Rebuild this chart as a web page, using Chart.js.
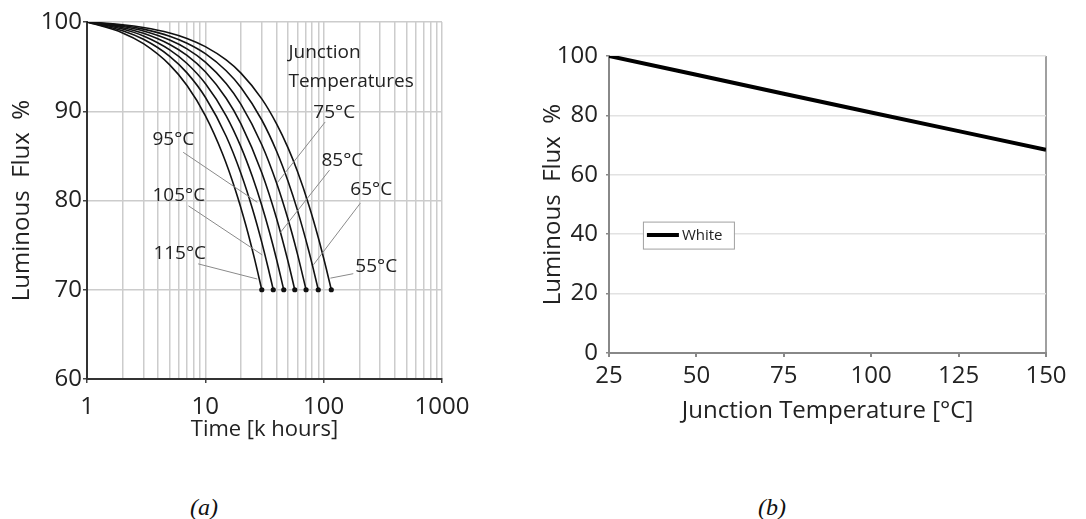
<!DOCTYPE html>
<html>
<head>
<meta charset="utf-8">
<script src="https://cdn.jsdelivr.net/npm/chart.js@4.4.1/dist/chart.umd.min.js"></script>
<style>
body { margin:0; background:#fff; width:1086px; height:519px; position:relative; overflow:hidden; }
#chartA { position:absolute; left:0; top:0; }
#chartB { position:absolute; left:530px; top:0; }
.cap { position:absolute; top:495px; line-height:24px; font-family:'Liberation Serif', serif; font-style:italic; font-size:24px; color:#111; }
</style>
</head>
<body>
<canvas id="chartA" width="480" height="450"></canvas>
<canvas id="chartB" width="556" height="450"></canvas>
<div class="cap" style="left:190px">(a)</div>
<div class="cap" style="left:758px">(b)</div>
<script>
//データ (a) 時間[k hours] と光束[%]
const hours55 = [1, 2, 3, 5, 7, 10, 15, 20, 30, 40, 50, 60, 75, 90, 105, 116];
const flux55 = [100, 99.69, 99.38, 98.77, 98.16, 97.24, 95.75, 94.27, 91.39, 88.59, 85.89, 83.27, 79.48, 75.86, 72.41, 70];
const hours65 = [1, 2, 3, 5, 7, 10, 15, 20, 30, 40, 50, 60, 75, 82, 90];
const flux65 = [100, 99.60, 99.20, 98.41, 97.62, 96.45, 94.54, 92.66, 89.02, 85.52, 82.16, 78.92, 74.32, 72.26, 70];
const hours75 = [1, 2, 3, 5, 7, 10, 15, 20, 30, 40, 50, 60, 71];
const flux75 = [100, 99.49, 98.99, 97.98, 96.99, 95.51, 93.11, 90.77, 86.25, 81.96, 77.89, 74.02, 70];
const hours85 = [1, 2, 3, 5, 7, 10, 15, 20, 30, 40, 50, 57];
const flux85 = [100, 99.36, 98.73, 97.48, 96.25, 94.42, 91.46, 88.59, 83.12, 77.99, 73.17, 70];
const hours95 = [1, 2, 3, 5, 7, 10, 15, 20, 25, 30, 35, 40, 46];
const flux95 = [100, 99.21, 98.43, 96.88, 95.35, 93.11, 89.49, 86.01, 82.66, 79.45, 76.36, 73.39, 70];
const hours105 = [1, 2, 3, 5, 7, 10, 15, 20, 25, 30, 34, 37.5];
const flux105 = [100, 99.03, 98.06, 96.16, 94.30, 91.57, 87.20, 83.03, 79.08, 75.31, 72.41, 70];
const hours115 = [1, 2, 3, 5, 7, 10, 14, 18, 22, 26, 30];
const flux115 = [100, 98.78, 97.57, 95.20, 92.88, 89.51, 85.21, 81.12, 77.22, 73.51, 70];

//目盛り (a)
const gridA = [1, 2, 3, 4, 5, 6, 7, 8, 9, 10, 20, 30, 40, 50, 60, 70, 80, 90, 100, 200, 300, 400, 500, 600, 700, 800, 900, 1000];
const labelsA = [1, 10, 100, 1000];

//注釈 (a)
const noteTitle = ['Junction', 'Temperatures'];
const noteTitleX = 50.4;
const noteTitleY = [96.6, 93.3];
const noteText = ['75°C', '95°C', '85°C', '105°C', '65°C', '115°C', '55°C'];
const noteX = [81.8, 3.57, 95.7, 3.57, 168, 3.64, 185];
const noteY = [89.9, 86.8, 84.5, 80.6, 81.2, 74.1, 72.6];
const leadFromX = [103, 6.5, 112, 7.2, 204, 8.7, 178];
const leadFromY = [88.8, 85.4, 83.4, 79.4, 79.7, 72.9, 71.8];
const leadToX = [40.6, 27.5, 43, 30.3, 82, 27.5, 114];
const leadToY = [82.0, 79.8, 76.4, 73.9, 72.8, 71.2, 71.3];

//データ (b)
const tempB = [25, 50, 75, 100, 125, 150];
const fluxB = [100, 93.7, 87.3, 81.0, 74.7, 68.4];
const legendAt = [34.7, 39.7];

Chart.defaults.font.family = "'Open Sans', sans-serif";
Chart.defaults.color = '#222';

function makeSet(label, xs, ys) {
  return {
    label: label,
    data: xs.map((x, i) => ({ x: x, y: ys[i] })),
    borderColor: '#111',
    backgroundColor: '#111',
    borderWidth: 1.6,
    cubicInterpolationMode: 'monotone',
    pointRadius: (c) => c.dataIndex === xs.length - 1 ? 1.8 : 0,
  };
}

//注釈の描画
let notePlugin = {
  id: 'notes',
  afterDatasetsDraw(chart) {
    let ctx = chart.ctx;
    let sx = chart.scales.x;
    let sy = chart.scales.y;
    ctx.save();
    ctx.strokeStyle = '#8a8a8a';
    ctx.lineWidth = 1;
    for (let i = 0; i < noteText.length; i++) {
      ctx.beginPath();
      ctx.moveTo(sx.getPixelForValue(leadFromX[i]), sy.getPixelForValue(leadFromY[i]));
      ctx.lineTo(sx.getPixelForValue(leadToX[i]), sy.getPixelForValue(leadToY[i]));
      ctx.stroke();
    }
    ctx.fillStyle = '#222';
    ctx.font = "19px 'Open Sans'";
    ctx.textBaseline = 'middle';
    ctx.textAlign = 'left';
    for (let i = 0; i < noteText.length; i++) {
      ctx.fillText(noteText[i], sx.getPixelForValue(noteX[i]), sy.getPixelForValue(noteY[i]));
    }
    for (let i = 0; i < noteTitle.length; i++) {
      ctx.fillText(noteTitle[i], sx.getPixelForValue(noteTitleX), sy.getPixelForValue(noteTitleY[i]));
    }
    ctx.restore();
  }
};

//凡例の描画
let legendPlugin = {
  id: 'legendBox',
  afterDraw(chart) {
    let ctx = chart.ctx;
    let x = chart.scales.x.getPixelForValue(legendAt[0]);
    let y = chart.scales.y.getPixelForValue(legendAt[1]);
    ctx.save();
    ctx.fillStyle = '#fff';
    ctx.fillRect(x, y - 13.5, 91, 27);
    ctx.strokeStyle = '#a0a0a0';
    ctx.lineWidth = 1;
    ctx.strokeRect(x + 0.5, y - 13, 91, 27);
    ctx.strokeStyle = '#000';
    ctx.lineWidth = 4;
    ctx.beginPath();
    ctx.moveTo(x + 4, y);
    ctx.lineTo(x + 36, y);
    ctx.stroke();
    ctx.fillStyle = '#222';
    ctx.font = "15px 'Open Sans'";
    ctx.textBaseline = 'middle';
    ctx.fillText(chart.data.datasets[0].label, x + 39, y + 1);
    ctx.restore();
  }
};

// グラフ (a)
let chartA = new Chart(document.getElementById('chartA'), {
  type: 'line',
  data: {
    datasets: [
      makeSet('55°C', hours55, flux55),
      makeSet('65°C', hours65, flux65),
      makeSet('75°C', hours75, flux75),
      makeSet('85°C', hours85, flux85),
      makeSet('95°C', hours95, flux95),
      makeSet('105°C', hours105, flux105),
      makeSet('115°C', hours115, flux115),
    ],
  },
  options: {
    responsive: false,
    animation: false,
    layout: { padding: { top: 22, left: 0, right: 38, bottom: 3 } },
    plugins: { legend: { display: false }, tooltip: { enabled: false } },
    scales: {
      x: {
        type: 'logarithmic',
        min: 1,
        max: 1000,
        afterBuildTicks: (s) => { s.ticks = gridA.map(v => ({ value: v })); },
        afterFit: (s) => { s.height = 68; },
        ticks: {
          autoSkip: false,
          maxRotation: 0,
          padding: 10,
          font: { size: 24 },
          callback: (v) => labelsA.includes(v) ? String(v) : '',
        },
        grid: {
          color: '#cccccc',
          lineWidth: 1.5,
          tickLength: 4,
          tickColor: (c) => c.tick && labelsA.includes(c.tick.value) ? '#444' : 'rgba(0,0,0,0)',
        },
        border: { color: '#333', width: 2 },
        title: { display: true, text: 'Time [k hours]', font: { size: 22 }, padding: { top: 0, bottom: 4 } },
      },
      y: {
        min: 60,
        max: 100,
        afterFit: (s) => { s.width = 87; },
        ticks: { stepSize: 10, padding: 1, font: { size: 24 } },
        grid: { color: '#cccccc', lineWidth: 1.5, tickLength: 4, tickColor: '#444' },
        border: { color: '#333', width: 2 },
        title: { display: true, text: 'Luminous  Flux  %', font: { size: 24 }, padding: { top: 8, bottom: 0 } },
      },
    },
  },
  plugins: [notePlugin],
});

// グラフ (b)
let chartB = new Chart(document.getElementById('chartB'), {
  type: 'line',
  data: {
    datasets: [{
      label: 'White',
      data: tempB.map((t, i) => ({ x: t, y: fluxB[i] })),
      borderColor: '#000',
      borderWidth: 4,
      pointRadius: 0,
    }],
  },
  options: {
    responsive: false,
    animation: false,
    layout: { padding: { top: 56, left: 0, right: 40, bottom: 20 } },
    plugins: { legend: { display: false }, tooltip: { enabled: false } },
    scales: {
      x: {
        type: 'linear',
        min: 25,
        max: 150,
        afterFit: (s) => { s.height = 77; },
        ticks: { stepSize: 25, maxRotation: 0, padding: 5, font: { size: 24 } },
        grid: {
          color: (c) => c.tick && c.tick.value === 150 ? '#a0a0a0' : 'rgba(0,0,0,0)',
          lineWidth: 2,
          tickLength: 4,
          tickColor: '#888',
        },
        border: { color: '#888', width: 2 },
        title: { display: true, text: 'Junction Temperature [°C]', font: { size: 24 }, padding: { top: 0, bottom: 4 } },
      },
      y: {
        min: 0,
        max: 100,
        afterFit: (s) => { s.width = 79; },
        ticks: { stepSize: 10, padding: 8, font: { size: 24 }, callback: (v) => v % 20 === 0 ? String(v) : '' },
        grid: { color: '#e2e2e2', lineWidth: 1.5, tickLength: 3, tickColor: '#888' },
        border: { color: '#888', width: 2 },
        title: { display: true, text: 'Luminous  Flux  %', font: { size: 24 }, padding: { top: 9, bottom: 0 } },
      },
    },
  },
  plugins: [legendPlugin],
});
</script>
</body>
</html>
